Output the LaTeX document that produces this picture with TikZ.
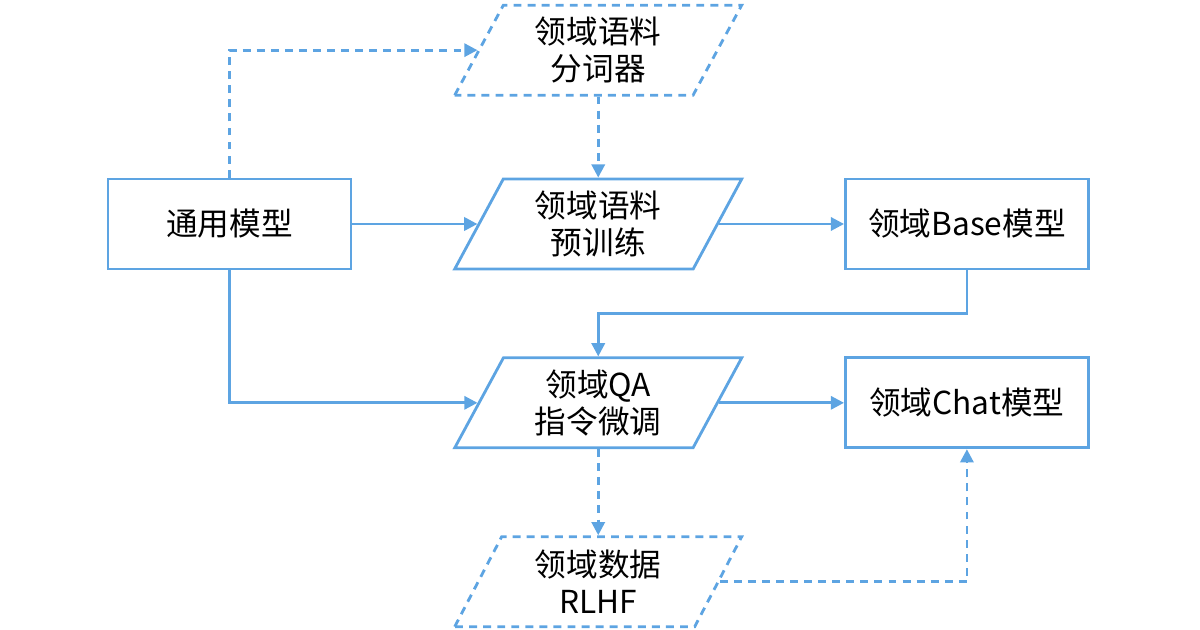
\documentclass[tikz,border=0pt]{standalone}
\usepackage{fontspec}
\setmainfont{Noto Sans CJK SC}
\usetikzlibrary{arrows.meta,positioning,shapes.geometric}
\definecolor{flowblue}{RGB}{93,164,226}

\begin{document}
\begin{tikzpicture}[>={Triangle[length=7.5pt,width=7.5pt]}, font=\fontsize{18}{21}\selectfont,
  box/.style={draw=flowblue, line width=1.6pt, align=center, minimum width=4.86cm, minimum height=1.8cm},
  para/.style={draw=flowblue, line width=1.6pt, align=center, trapezium, trapezium left angle=58, trapezium right angle=122, trapezium stretches body, minimum width=5.74cm, minimum height=1.8cm},
  dpara/.style={para, dash pattern=on 4.5pt off 3.5pt},
  line/.style={draw=flowblue, line width=1.6pt, ->},
  dline/.style={line, dash pattern=on 4.5pt off 3.5pt},
  node distance=1.72cm and 2.5cm]
\useasboundingbox (-4.59,4.48) rectangle (19.41,-8.12);
\node[box] (general) {通用模型};
\node[para, right=of general] (pretrain) {领域语料\\预训练};
\node[box, right=of pretrain] (base) {领域Base模型};
\node[dpara, above=1.62cm of pretrain] (tokenizer) {领域语料\\分词器};
\node[para, below=of pretrain] (sft) {领域QA\\指令微调};
\node[box, right=of sft] (chat) {领域Chat模型};
\node[dpara, below=of sft] (rlhf) {领域数据\\RLHF};
\draw[dline] (general.north) |- (tokenizer.west);
\draw[line] (general.east) -- (pretrain.west);
\draw[line] (general.south) |- (sft.west);
\draw[dline] (tokenizer.south) -- (pretrain.north);
\draw[line] (pretrain.east) -- (base.west);
\draw[line] (base.south) -- ++(0,-0.86) -| (sft.north);
\draw[line] (sft.east) -- (chat.west);
\draw[dline] (sft.south) -- (rlhf.north);
\draw[dline] (rlhf.east) -| (chat.south);
\end{tikzpicture}
\end{document}
